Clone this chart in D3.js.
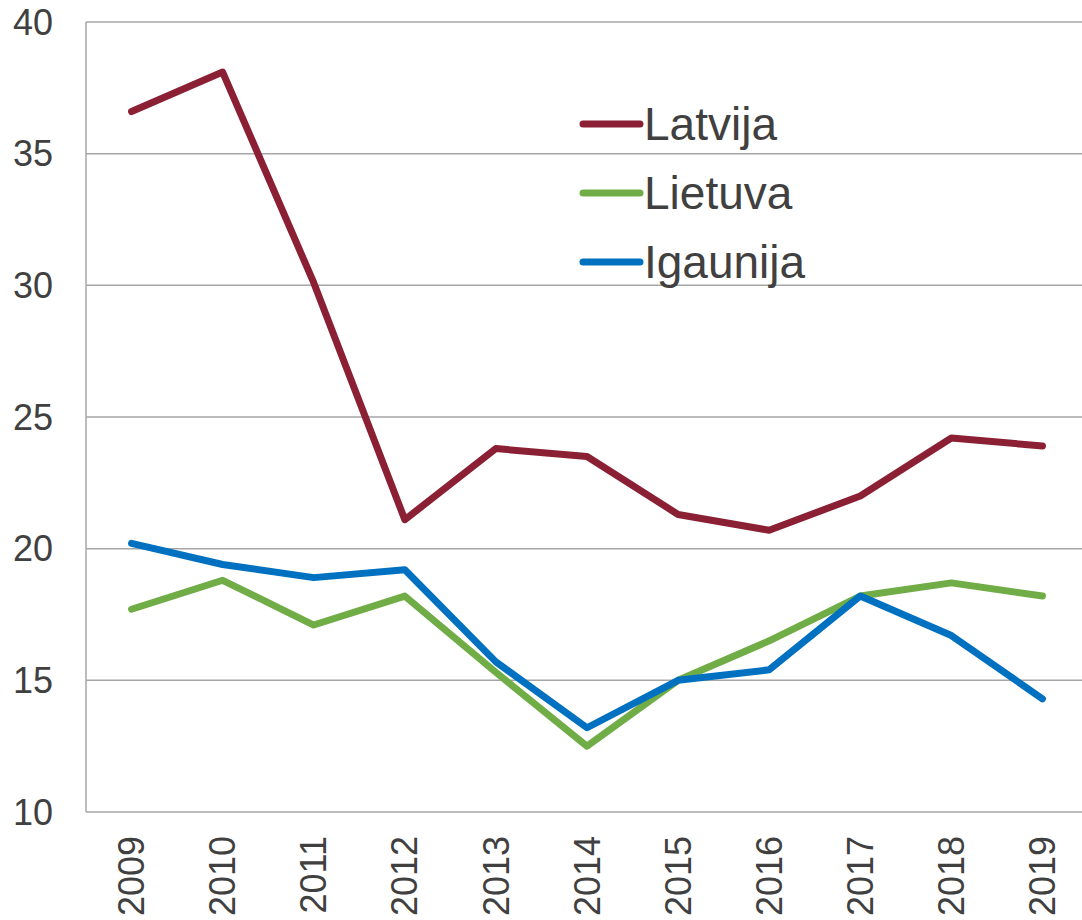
<!DOCTYPE html>
<html>
<head>
<meta charset="utf-8">
<script src="https://cdn.jsdelivr.net/npm/d3@7"></script>
<style>
  body { margin: 0; background: #fff; }
  text { font-family: "Liberation Sans", Arial, sans-serif; fill: #404040; }
</style>
</head>
<body>
<svg id="chart"></svg>
<script>
const years = ['2009', '2010', '2011', '2012', '2013', '2014', '2015', '2016', '2017', '2018', '2019'];
const latvija = [36.6, 38.1, 30.1, 21.1, 23.8, 23.5, 21.3, 20.7, 22.0, 24.2, 23.9];
const lietuva = [17.7, 18.8, 17.1, 18.2, 15.3, 12.5, 15.0, 16.5, 18.2, 18.7, 18.2];
const igaunija = [20.2, 19.4, 18.9, 19.2, 15.7, 13.2, 15.0, 15.4, 18.2, 16.7, 14.3];
const yTicks = [10, 15, 20, 25, 30, 35, 40];

const series = [
  { name: 'Latvija', values: latvija, color: '#8b2035' },
  { name: 'Lietuva', values: lietuva, color: '#70ad47' },
  { name: 'Igaunija', values: igaunija, color: '#0070c0' }
];

const fullWidth = 1082;
const fullHeight = 920;
const margin = { top: 22, left: 86, bottom: 108 };

const svg = d3.select('#chart')
    .attr('width', fullWidth)
    .attr('height', fullHeight);

const x = d3.scalePoint()
    .domain(years)
    .range([margin.left, 1088])
    .padding(0.5);

const y = d3.scaleLinear()
    .domain([10, 40])
    .range([fullHeight - margin.bottom - 0, margin.top]);

// grid lines
svg.append('g')
  .selectAll('line')
  .data(yTicks)
  .join('line')
    .attr('x1', margin.left)
    .attr('x2', fullWidth)
    .attr('y1', d => y(d))
    .attr('y2', d => y(d))
    .attr('stroke', '#a6a6a6')
    .attr('stroke-width', 1.5);

// left axis line
svg.append('line')
    .attr('x1', margin.left)
    .attr('x2', margin.left)
    .attr('y1', y(40))
    .attr('y2', y(10))
    .attr('stroke', '#a6a6a6')
    .attr('stroke-width', 1.5);

// y labels
svg.append('g')
  .selectAll('text')
  .data(yTicks)
  .join('text')
    .attr('x', 53)
    .attr('y', d => y(d))
    .attr('dy', '0.35em')
    .attr('text-anchor', 'end')
    .style('font-size', '36px')
    .text(d => d);

// x labels (rotated)
svg.append('g')
  .selectAll('text')
  .data(years)
  .join('text')
    .attr('transform', d => `translate(${x(d)}, 836) rotate(-90)`)
    .attr('dy', '0.35em')
    .attr('text-anchor', 'end')
    .style('font-size', '36px')
    .text(d => d);

const line = d3.line()
    .x((d, i) => x(years[i]))
    .y(d => y(d));

svg.append('g')
  .selectAll('path')
  .data(series)
  .join('path')
    .attr('d', d => line(d.values))
    .attr('fill', 'none')
    .attr('stroke', d => d.color)
    .attr('stroke-width', 7)
    .attr('stroke-linecap', 'round')
    .attr('stroke-linejoin', 'round');

// legend
const legend = svg.append('g')
  .selectAll('g')
  .data(series)
  .join('g')
    .attr('transform', (d, i) => `translate(583, ${124 + i * 69})`);

legend.append('line')
    .attr('x1', 0)
    .attr('x2', 57)
    .attr('stroke', d => d.color)
    .attr('stroke-width', 7)
    .attr('stroke-linecap', 'round');

legend.append('text')
    .attr('x', 61)
    .attr('dy', '0.35em')
    .style('font-size', '46px')
    .text(d => d.name);
</script>
</body>
</html>
